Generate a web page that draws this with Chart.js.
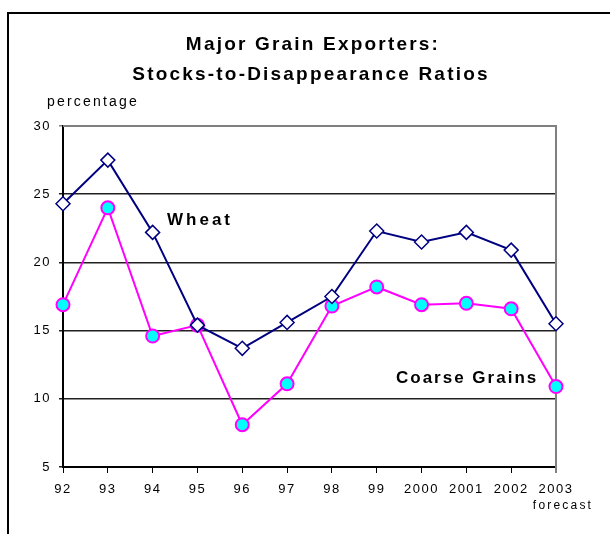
<!DOCTYPE html>
<html>
<head>
<meta charset="utf-8">
<script src="https://cdn.jsdelivr.net/npm/chart.js@4.4.1/dist/chart.umd.min.js"></script>
<style>
  html, body { margin: 0; padding: 0; background: #fff; overflow: hidden; }
  #wrap { position: relative; width: 610px; height: 534px; }
</style>
</head>
<body>
<div id="wrap"><canvas id="grainChart" width="610" height="534"></canvas></div>
<script>
// data
const years = ['92', '93', '94', '95', '96', '97', '98', '99', '2000', '2001', '2002', '2003'];
const wheat = [24.3, 27.5, 22.2, 15.4, 13.7, 15.6, 17.5, 22.3, 21.5, 22.2, 20.9, 15.5];
const coarseGrains = [16.9, 24.0, 14.6, 15.4, 8.1, 11.1, 16.8, 18.2, 16.9, 17.0, 16.6, 10.9];
const yTicks = [5, 10, 15, 20, 25, 30];

const FONT = '"Liberation Sans", Arial, sans-serif';

// frame, titles, labels and plot border
const decorPlugin = {
  id: 'decor',
  beforeDraw(chart) {
    const ctx = chart.ctx;
    ctx.save();
    ctx.strokeStyle = '#000';
    ctx.lineWidth = 2;
    ctx.beginPath();
    ctx.moveTo(8, 534);
    ctx.lineTo(8, 13);
    ctx.lineTo(610, 13);
    ctx.stroke();

    ctx.fillStyle = '#000';
    ctx.textAlign = 'center';
    ctx.textBaseline = 'middle';
    ctx.font = 'bold 19px ' + FONT;
    ctx.letterSpacing = '2.2px';
    ctx.fillText('Major Grain Exporters:', 313, 45);
    ctx.fillText('Stocks-to-Disappearance Ratios', 311, 75);

    ctx.font = '14px ' + FONT;
    ctx.letterSpacing = '2.2px';
    ctx.textAlign = 'left';
    ctx.fillText('percentage', 47, 102);
    ctx.restore();
    // spaced-out tick text like the original
    ctx.letterSpacing = '1.5px';
  },
  beforeDatasetsDraw(chart) {
    const { ctx, chartArea } = chart;
    ctx.save();
    ctx.strokeStyle = '#808080';
    ctx.lineWidth = 2;
    ctx.beginPath();
    ctx.moveTo(chartArea.left, chartArea.top);
    ctx.lineTo(chartArea.right, chartArea.top);
    ctx.lineTo(chartArea.right, chartArea.bottom + 6);
    ctx.stroke();
    ctx.restore();
  },
  afterDraw(chart) {
    const ctx = chart.ctx;
    const x = chart.scales.x;
    ctx.save();
    ctx.fillStyle = '#000';
    ctx.textBaseline = 'middle';

    ctx.font = 'bold 17px ' + FONT;
    ctx.letterSpacing = '3px';
    ctx.textAlign = 'left';
    ctx.fillText('Wheat', 167, 220);
    ctx.letterSpacing = '2px';
    ctx.fillText('Coarse Grains', 396, 378);

    ctx.font = '12px ' + FONT;
    ctx.letterSpacing = '2.2px';
    ctx.textAlign = 'center';
    ctx.fillText('forecast', x.getPixelForValue(years.length - 1) + 7, 506);
    ctx.restore();
    ctx.letterSpacing = '0px';
  }
};

const ctx = document.getElementById('grainChart').getContext('2d');

new Chart(ctx, {
  type: 'line',
  data: {
    labels: years,
    datasets: [
      {
        label: 'Wheat',
        data: wheat,
        borderColor: '#000080',
        borderWidth: 2,
        pointStyle: 'rectRot',
        pointRadius: 7,
        pointBorderWidth: 1.5,
        pointBackgroundColor: '#ffffff',
        pointBorderColor: '#000080',
        tension: 0
      },
      {
        label: 'Coarse Grains',
        data: coarseGrains,
        borderColor: '#ff00ff',
        borderWidth: 2,
        pointStyle: 'circle',
        pointRadius: 6.5,
        pointBorderWidth: 2,
        pointBackgroundColor: '#00ffff',
        pointBorderColor: '#ff00ff',
        tension: 0
      }
    ]
  },
  options: {
    responsive: false,
    animation: false,
    devicePixelRatio: 1,
    layout: { padding: { left: 0, top: 126, right: 54, bottom: 0 } },
    plugins: {
      legend: { display: false },
      title: { display: false },
      tooltip: { enabled: false }
    },
    scales: {
      x: {
        offset: false,
        grid: {
          drawOnChartArea: false,
          drawTicks: true,
          tickLength: 6,
          color: '#000'
        },
        border: { color: '#000', width: 2 },
        ticks: {
          color: '#000',
          font: { family: FONT, size: 13 },
          padding: 9,
          maxRotation: 0,
          autoSkip: false
        },
        afterFit(scale) { scale.height = 67; }
      },
      y: {
        min: 5,
        max: 30,
        afterBuildTicks(scale) { scale.ticks = yTicks.map(v => ({ value: v })); },
        grid: {
          color: ctx => (ctx.tick && ctx.tick.value === 30 ? '#808080' : '#202020'),
          lineWidth: 1.5,
          tickLength: 4,
          drawTicks: true
        },
        border: { color: '#000', width: 2 },
        ticks: {
          color: '#000',
          font: { family: FONT, size: 13 },
          padding: 8
        },
        afterFit(scale) { scale.width = 63; }
      }
    }
  },
  plugins: [decorPlugin]
});
</script>
</body>
</html>
